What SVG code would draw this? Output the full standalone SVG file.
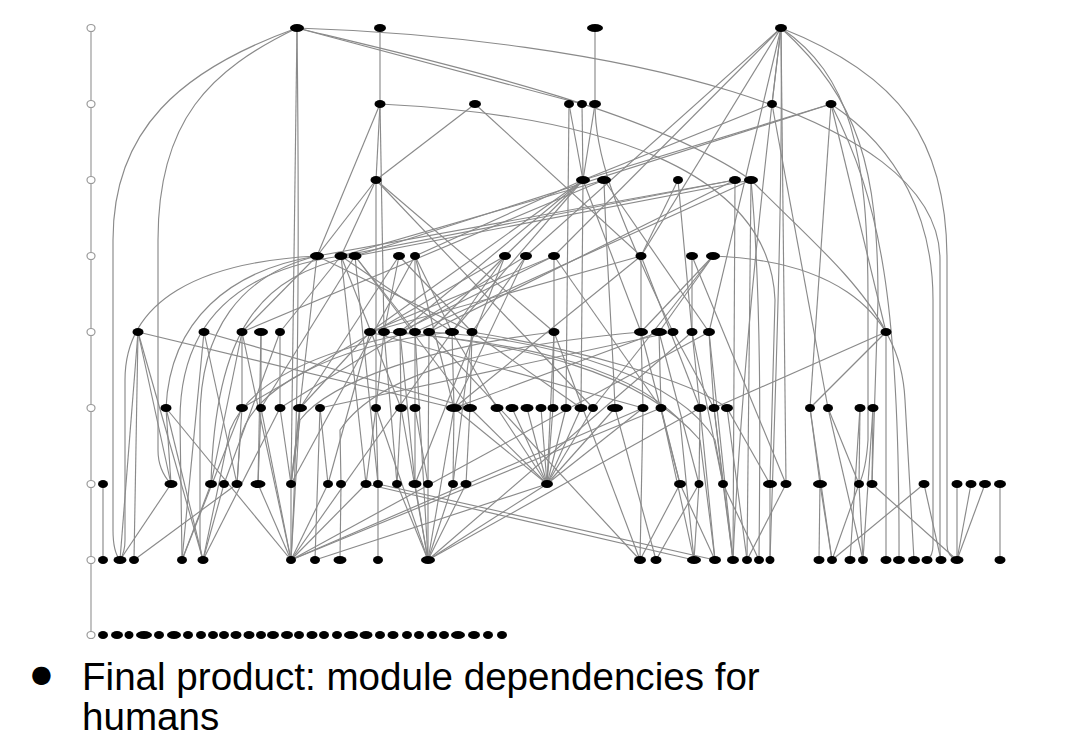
<svg xmlns="http://www.w3.org/2000/svg" width="1092" height="747" viewBox="0 0 1092 747">
<style>
.e{fill:none;stroke:#8a8a8a;stroke-width:1.15}
.n ellipse{fill:#000}
.ax{fill:#fff;stroke:#9a9a9a;stroke-width:1.2}
.axl{stroke:#9a9a9a;stroke-width:1.2}
.t{font-family:"Liberation Sans",Arial,sans-serif;font-size:38.6px;fill:#000}
</style>
<rect width="1092" height="747" fill="#fff"/>
<g id="rank-axis">
<line class="axl" x1="91" y1="28" x2="91" y2="635"/>
<ellipse class="ax" cx="91" cy="28" rx="4" ry="3.5"/>
<ellipse class="ax" cx="91" cy="104" rx="4" ry="3.5"/>
<ellipse class="ax" cx="91" cy="180" rx="4" ry="3.5"/>
<ellipse class="ax" cx="91" cy="256" rx="4" ry="3.5"/>
<ellipse class="ax" cx="91" cy="332" rx="4" ry="3.5"/>
<ellipse class="ax" cx="91" cy="408" rx="4" ry="3.5"/>
<ellipse class="ax" cx="91" cy="484" rx="4" ry="3.5"/>
<ellipse class="ax" cx="91" cy="560" rx="4" ry="3.5"/>
<ellipse class="ax" cx="91" cy="635" rx="4" ry="3.5"/>
</g>
<g id="connectors">
<path class="e" d="M297,28 C180,70 113,130 113,240 L113,530 Q113,552 120,560"/>
<path class="e" d="M297,28 C210,70 158,120 158,240 L158,450 Q158,470 171,484"/>
<path class="e" d="M297,28 L291,484"/>
<path class="e" d="M297,28 C299,200 299,420 291,560"/>
<path class="e" d="M297,28 C600,38 940,110 940,260 L940,545 Q940,556 941,560"/>
<path class="e" d="M297,28 C450,65 650,110 751,180"/>
<path class="e" d="M297,28 L582,104"/>
<path class="e" d="M380,28 L380,104"/>
<path class="e" d="M595,28 L595,104"/>
<path class="e" d="M781,28 L772,104"/>
<path class="e" d="M781,28 L786,484"/>
<path class="e" d="M781,28 C783,200 775,400 770,560"/>
<path class="e" d="M781,28 C900,75 947,140 947,260 L947,545 Q947,556 957,560"/>
<path class="e" d="M781,28 C850,75 868,150 868,300 L868,440 Q866,470 859,484"/>
<path class="e" d="M781,28 C860,100 878,170 878,300 L872,484"/>
<path class="e" d="M781,28 L641,256"/>
<path class="e" d="M781,28 L554,256"/>
<path class="e" d="M781,28 L709,332"/>
<path class="e" d="M781,28 L526,256"/>
<path class="e" d="M781,28 C760,200 740,400 733,560"/>
<path class="e" d="M380,104 L376,180"/>
<path class="e" d="M380,104 L317,256"/>
<path class="e" d="M380,104 L384,332"/>
<path class="e" d="M380,104 C600,115 770,170 775,300 L770,484"/>
<path class="e" d="M475,104 L376,180"/>
<path class="e" d="M475,104 L641,256"/>
<path class="e" d="M569,104 L583,180"/>
<path class="e" d="M569,104 L566,408"/>
<path class="e" d="M582,104 L583,180"/>
<path class="e" d="M595,104 L583,180"/>
<path class="e" d="M595,104 C595,150 610,200 673,332"/>
<path class="e" d="M772,104 L583,180"/>
<path class="e" d="M772,104 L828,408"/>
<path class="e" d="M831,104 L583,180"/>
<path class="e" d="M831,104 L355,256"/>
<path class="e" d="M831,104 L810,408"/>
<path class="e" d="M831,104 L886,332"/>
<path class="e" d="M831,104 C880,200 900,300 899,560"/>
<path class="e" d="M831,104 C900,150 933,220 933,300 L933,545 Q933,556 927,560"/>
<path class="e" d="M376,180 L317,256"/>
<path class="e" d="M376,180 L341,256"/>
<path class="e" d="M376,180 L376,408"/>
<path class="e" d="M376,180 L554,332"/>
<path class="e" d="M376,180 L593,408"/>
<path class="e" d="M583,180 L452,332"/>
<path class="e" d="M583,180 L505,256"/>
<path class="e" d="M583,180 L581,408"/>
<path class="e" d="M583,180 L370,332"/>
<path class="e" d="M583,180 L400,332"/>
<path class="e" d="M583,180 L415,256"/>
<path class="e" d="M583,180 L641,332"/>
<path class="e" d="M604,180 L709,332"/>
<path class="e" d="M604,180 C606,250 612,330 615,408"/>
<path class="e" d="M604,180 L242,332"/>
<path class="e" d="M604,180 L341,256"/>
<path class="e" d="M678,180 L641,256"/>
<path class="e" d="M678,180 L692,332"/>
<path class="e" d="M735,180 L317,256"/>
<path class="e" d="M735,180 L341,256"/>
<path class="e" d="M735,180 L733,560"/>
<path class="e" d="M735,180 L429,332"/>
<path class="e" d="M751,180 L355,256"/>
<path class="e" d="M751,180 L415,332"/>
<path class="e" d="M751,180 C762,300 760,450 759,560"/>
<path class="e" d="M751,180 C800,230 860,280 886,332"/>
<path class="e" d="M751,180 L747,560"/>
<path class="e" d="M317,256 C200,262 125,300 125,380 L125,540 Q125,552 120,560"/>
<path class="e" d="M317,256 C230,270 170,320 166,408"/>
<path class="e" d="M317,256 C240,275 200,330 200,420 L200,540 Q200,552 203,560"/>
<path class="e" d="M317,256 L242,332"/>
<path class="e" d="M317,256 L291,484"/>
<path class="e" d="M317,256 L472,332"/>
<path class="e" d="M341,256 C240,270 180,320 180,420 L182,560"/>
<path class="e" d="M341,256 L280,332"/>
<path class="e" d="M341,256 L401,408"/>
<path class="e" d="M341,256 L366,484"/>
<path class="e" d="M341,256 L452,332"/>
<path class="e" d="M355,256 L261,408"/>
<path class="e" d="M355,256 L415,332"/>
<path class="e" d="M355,256 L378,484"/>
<path class="e" d="M355,256 L470,408"/>
<path class="e" d="M355,256 C260,275 215,330 211,484"/>
<path class="e" d="M399,256 L384,332"/>
<path class="e" d="M399,256 L300,408"/>
<path class="e" d="M399,256 L472,332"/>
<path class="e" d="M415,256 L415,332"/>
<path class="e" d="M415,256 L454,408"/>
<path class="e" d="M415,256 L291,484"/>
<path class="e" d="M415,256 L452,332"/>
<path class="e" d="M505,256 L429,332"/>
<path class="e" d="M505,256 L452,332"/>
<path class="e" d="M505,256 L415,484"/>
<path class="e" d="M505,256 L242,408"/>
<path class="e" d="M526,256 L472,332"/>
<path class="e" d="M526,256 L454,408"/>
<path class="e" d="M526,256 L280,408"/>
<path class="e" d="M554,256 L554,332"/>
<path class="e" d="M554,256 L400,332"/>
<path class="e" d="M554,256 L661,408"/>
<path class="e" d="M554,256 L370,332"/>
<path class="e" d="M641,256 L641,332"/>
<path class="e" d="M641,256 L454,408"/>
<path class="e" d="M641,256 L700,408"/>
<path class="e" d="M641,256 L370,332"/>
<path class="e" d="M692,256 L692,332"/>
<path class="e" d="M692,256 L786,484"/>
<path class="e" d="M713,256 C820,260 900,300 905,400 L914,560"/>
<path class="e" d="M713,256 L641,332"/>
<path class="e" d="M713,256 L593,408"/>
<path class="e" d="M713,256 L659,332"/>
<path class="e" d="M138,332 L120,560"/>
<path class="e" d="M138,332 L134,560"/>
<path class="e" d="M138,332 L171,484"/>
<path class="e" d="M138,332 L203,560"/>
<path class="e" d="M138,332 L454,408"/>
<path class="e" d="M204,332 L182,560"/>
<path class="e" d="M204,332 L237,484"/>
<path class="e" d="M204,332 L470,408"/>
<path class="e" d="M242,332 L242,408"/>
<path class="e" d="M242,332 L211,484"/>
<path class="e" d="M242,332 L291,560"/>
<path class="e" d="M261,332 L261,408"/>
<path class="e" d="M261,332 L258,484"/>
<path class="e" d="M280,332 L280,408"/>
<path class="e" d="M280,332 L224,484"/>
<path class="e" d="M370,332 L300,408"/>
<path class="e" d="M370,332 L328,484"/>
<path class="e" d="M370,332 L643,408"/>
<path class="e" d="M384,332 L376,408"/>
<path class="e" d="M384,332 L397,484"/>
<path class="e" d="M384,332 C500,340 620,360 680,420 L694,560"/>
<path class="e" d="M400,332 L401,408"/>
<path class="e" d="M400,332 L415,484"/>
<path class="e" d="M400,332 C520,345 640,370 700,440 L715,560"/>
<path class="e" d="M415,332 L415,408"/>
<path class="e" d="M415,332 L428,560"/>
<path class="e" d="M415,332 C320,350 250,380 230,430 L203,560"/>
<path class="e" d="M429,332 L428,484"/>
<path class="e" d="M429,332 L640,560"/>
<path class="e" d="M429,332 C560,340 680,380 715,440 L723,484"/>
<path class="e" d="M452,332 L454,408"/>
<path class="e" d="M452,332 L497,408"/>
<path class="e" d="M452,332 L291,560"/>
<path class="e" d="M452,332 C330,345 250,390 240,440 L237,484"/>
<path class="e" d="M472,332 L470,408"/>
<path class="e" d="M472,332 L581,408"/>
<path class="e" d="M472,332 L453,484"/>
<path class="e" d="M472,332 C580,350 690,380 727,408"/>
<path class="e" d="M554,332 L553,408"/>
<path class="e" d="M554,332 L640,560"/>
<path class="e" d="M554,332 L547,484"/>
<path class="e" d="M554,332 C440,345 330,380 300,420 L291,484"/>
<path class="e" d="M641,332 L643,408"/>
<path class="e" d="M641,332 L680,484"/>
<path class="e" d="M641,332 C500,345 380,370 340,430 L341,484"/>
<path class="e" d="M659,332 L661,408"/>
<path class="e" d="M659,332 L454,408"/>
<path class="e" d="M659,332 L699,484"/>
<path class="e" d="M673,332 L714,408"/>
<path class="e" d="M673,332 L320,408"/>
<path class="e" d="M692,332 L700,408"/>
<path class="e" d="M692,332 L723,484"/>
<path class="e" d="M692,332 L428,560"/>
<path class="e" d="M709,332 L714,408"/>
<path class="e" d="M709,332 L733,560"/>
<path class="e" d="M709,332 L291,560"/>
<path class="e" d="M886,332 L714,408"/>
<path class="e" d="M886,332 L886,560"/>
<path class="e" d="M886,332 L810,408"/>
<path class="e" d="M166,408 L171,484"/>
<path class="e" d="M166,408 L203,560"/>
<path class="e" d="M166,408 L291,560"/>
<path class="e" d="M242,408 L237,484"/>
<path class="e" d="M242,408 L182,560"/>
<path class="e" d="M261,408 L258,484"/>
<path class="e" d="M261,408 L291,560"/>
<path class="e" d="M280,408 L291,484"/>
<path class="e" d="M280,408 L203,560"/>
<path class="e" d="M300,408 L291,484"/>
<path class="e" d="M300,408 L291,560"/>
<path class="e" d="M320,408 L328,484"/>
<path class="e" d="M320,408 L315,560"/>
<path class="e" d="M376,408 L378,484"/>
<path class="e" d="M376,408 L366,484"/>
<path class="e" d="M376,408 L428,560"/>
<path class="e" d="M401,408 L397,484"/>
<path class="e" d="M401,408 L428,560"/>
<path class="e" d="M415,408 L415,484"/>
<path class="e" d="M415,408 L428,484"/>
<path class="e" d="M454,408 L547,484"/>
<path class="e" d="M454,408 L453,484"/>
<path class="e" d="M454,408 L428,560"/>
<path class="e" d="M470,408 L547,484"/>
<path class="e" d="M470,408 L466,484"/>
<path class="e" d="M497,408 L547,484"/>
<path class="e" d="M512,408 L547,484"/>
<path class="e" d="M527,408 L547,484"/>
<path class="e" d="M541,408 L547,484"/>
<path class="e" d="M553,408 L547,484"/>
<path class="e" d="M566,408 L547,484"/>
<path class="e" d="M581,408 L547,484"/>
<path class="e" d="M593,408 L547,484"/>
<path class="e" d="M615,408 L547,484"/>
<path class="e" d="M615,408 L656,560"/>
<path class="e" d="M643,408 L547,484"/>
<path class="e" d="M643,408 L640,560"/>
<path class="e" d="M643,408 L291,560"/>
<path class="e" d="M661,408 L680,484"/>
<path class="e" d="M661,408 L694,560"/>
<path class="e" d="M661,408 L291,560"/>
<path class="e" d="M700,408 L699,484"/>
<path class="e" d="M700,408 L715,560"/>
<path class="e" d="M700,408 L428,560"/>
<path class="e" d="M714,408 L723,484"/>
<path class="e" d="M714,408 L733,560"/>
<path class="e" d="M727,408 L770,484"/>
<path class="e" d="M727,408 L747,560"/>
<path class="e" d="M810,408 L820,484"/>
<path class="e" d="M810,408 L832,560"/>
<path class="e" d="M828,408 L859,484"/>
<path class="e" d="M828,408 L863,560"/>
<path class="e" d="M860,408 L859,484"/>
<path class="e" d="M860,408 L850,560"/>
<path class="e" d="M873,408 L872,484"/>
<path class="e" d="M873,408 L863,560"/>
<path class="e" d="M103,484 L103,560"/>
<path class="e" d="M171,484 L120,560"/>
<path class="e" d="M211,484 L182,560"/>
<path class="e" d="M224,484 L203,560"/>
<path class="e" d="M237,484 L134,560"/>
<path class="e" d="M258,484 L291,560"/>
<path class="e" d="M291,484 L291,560"/>
<path class="e" d="M328,484 L291,560"/>
<path class="e" d="M341,484 L340,560"/>
<path class="e" d="M366,484 L291,560"/>
<path class="e" d="M378,484 L378,560"/>
<path class="e" d="M397,484 L428,560"/>
<path class="e" d="M415,484 L428,560"/>
<path class="e" d="M428,484 L428,560"/>
<path class="e" d="M453,484 L428,560"/>
<path class="e" d="M466,484 L428,560"/>
<path class="e" d="M547,484 L428,560"/>
<path class="e" d="M547,484 L315,560"/>
<path class="e" d="M680,484 L715,560"/>
<path class="e" d="M680,484 L640,560"/>
<path class="e" d="M699,484 L694,560"/>
<path class="e" d="M699,484 L656,560"/>
<path class="e" d="M723,484 L733,560"/>
<path class="e" d="M723,484 L759,560"/>
<path class="e" d="M770,484 L770,560"/>
<path class="e" d="M786,484 L747,560"/>
<path class="e" d="M820,484 L819,560"/>
<path class="e" d="M820,484 L832,560"/>
<path class="e" d="M859,484 L832,560"/>
<path class="e" d="M859,484 L863,560"/>
<path class="e" d="M872,484 L957,560"/>
<path class="e" d="M924,484 L832,560"/>
<path class="e" d="M924,484 L941,560"/>
<path class="e" d="M957,484 L957,560"/>
<path class="e" d="M971,484 L957,560"/>
<path class="e" d="M985,484 L957,560"/>
<path class="e" d="M1000,484 L1000,560"/>
<path class="e" d="M366,484 L694,560"/>
<path class="e" d="M378,484 L715,560"/>
</g>
<g id="nodes" class="n">
<g id="r0n0"><ellipse cx="297" cy="28" rx="7" ry="4"/></g>
<g id="r0n1"><ellipse cx="380" cy="28" rx="6" ry="4"/></g>
<g id="r0n2"><ellipse cx="595" cy="28" rx="8" ry="4"/></g>
<g id="r0n3"><ellipse cx="781" cy="28" rx="6" ry="4"/></g>
<g id="r1n0"><ellipse cx="380" cy="104" rx="5.5" ry="4"/></g>
<g id="r1n1"><ellipse cx="475" cy="104" rx="6" ry="4"/></g>
<g id="r1n2"><ellipse cx="569" cy="104" rx="5" ry="4"/></g>
<g id="r1n3"><ellipse cx="582" cy="104" rx="5" ry="4"/></g>
<g id="r1n4"><ellipse cx="595" cy="104" rx="6" ry="4"/></g>
<g id="r1n5"><ellipse cx="772" cy="104" rx="5" ry="4"/></g>
<g id="r1n6"><ellipse cx="831" cy="104" rx="5.5" ry="4"/></g>
<g id="r2n0"><ellipse cx="376" cy="180" rx="5.5" ry="4"/></g>
<g id="r2n1"><ellipse cx="583" cy="180" rx="7" ry="4"/></g>
<g id="r2n2"><ellipse cx="604" cy="180" rx="7" ry="4"/></g>
<g id="r2n3"><ellipse cx="678" cy="180" rx="5" ry="4"/></g>
<g id="r2n4"><ellipse cx="735" cy="180" rx="6" ry="4"/></g>
<g id="r2n5"><ellipse cx="751" cy="180" rx="7" ry="4"/></g>
<g id="r3n0"><ellipse cx="317" cy="256" rx="7" ry="4"/></g>
<g id="r3n1"><ellipse cx="341" cy="256" rx="6.5" ry="4"/></g>
<g id="r3n2"><ellipse cx="355" cy="256" rx="6.5" ry="4"/></g>
<g id="r3n3"><ellipse cx="399" cy="256" rx="6" ry="4"/></g>
<g id="r3n4"><ellipse cx="415" cy="256" rx="5" ry="4"/></g>
<g id="r3n5"><ellipse cx="505" cy="256" rx="6" ry="4"/></g>
<g id="r3n6"><ellipse cx="526" cy="256" rx="6" ry="4"/></g>
<g id="r3n7"><ellipse cx="554" cy="256" rx="6" ry="4"/></g>
<g id="r3n8"><ellipse cx="641" cy="256" rx="5.5" ry="4"/></g>
<g id="r3n9"><ellipse cx="692" cy="256" rx="6" ry="4"/></g>
<g id="r3n10"><ellipse cx="713" cy="256" rx="7" ry="4"/></g>
<g id="r4n0"><ellipse cx="138" cy="332" rx="5.5" ry="4"/></g>
<g id="r4n1"><ellipse cx="204" cy="332" rx="5.5" ry="4"/></g>
<g id="r4n2"><ellipse cx="242" cy="332" rx="5.5" ry="4"/></g>
<g id="r4n3"><ellipse cx="261" cy="332" rx="7" ry="4"/></g>
<g id="r4n4"><ellipse cx="280" cy="332" rx="5" ry="4"/></g>
<g id="r4n5"><ellipse cx="370" cy="332" rx="6" ry="4"/></g>
<g id="r4n6"><ellipse cx="384" cy="332" rx="6" ry="4"/></g>
<g id="r4n7"><ellipse cx="400" cy="332" rx="7" ry="4"/></g>
<g id="r4n8"><ellipse cx="415" cy="332" rx="6" ry="4"/></g>
<g id="r4n9"><ellipse cx="429" cy="332" rx="6" ry="4"/></g>
<g id="r4n10"><ellipse cx="452" cy="332" rx="7" ry="4"/></g>
<g id="r4n11"><ellipse cx="472" cy="332" rx="5.5" ry="4"/></g>
<g id="r4n12"><ellipse cx="554" cy="332" rx="5.5" ry="4"/></g>
<g id="r4n13"><ellipse cx="641" cy="332" rx="7" ry="4"/></g>
<g id="r4n14"><ellipse cx="659" cy="332" rx="8" ry="4"/></g>
<g id="r4n15"><ellipse cx="673" cy="332" rx="5.5" ry="4"/></g>
<g id="r4n16"><ellipse cx="692" cy="332" rx="5.5" ry="4"/></g>
<g id="r4n17"><ellipse cx="709" cy="332" rx="6" ry="4"/></g>
<g id="r4n18"><ellipse cx="886" cy="332" rx="5.5" ry="4"/></g>
<g id="r5n0"><ellipse cx="166" cy="408" rx="5.5" ry="4"/></g>
<g id="r5n1"><ellipse cx="242" cy="408" rx="6" ry="4"/></g>
<g id="r5n2"><ellipse cx="261" cy="408" rx="5" ry="4"/></g>
<g id="r5n3"><ellipse cx="280" cy="408" rx="5.5" ry="4"/></g>
<g id="r5n4"><ellipse cx="300" cy="408" rx="7" ry="4"/></g>
<g id="r5n5"><ellipse cx="320" cy="408" rx="5" ry="4"/></g>
<g id="r5n6"><ellipse cx="376" cy="408" rx="5" ry="4"/></g>
<g id="r5n7"><ellipse cx="401" cy="408" rx="6" ry="4"/></g>
<g id="r5n8"><ellipse cx="415" cy="408" rx="5.5" ry="4"/></g>
<g id="r5n9"><ellipse cx="454" cy="408" rx="8" ry="4"/></g>
<g id="r5n10"><ellipse cx="470" cy="408" rx="7" ry="4"/></g>
<g id="r5n11"><ellipse cx="497" cy="408" rx="6.5" ry="4"/></g>
<g id="r5n12"><ellipse cx="512" cy="408" rx="6.5" ry="4"/></g>
<g id="r5n13"><ellipse cx="527" cy="408" rx="6.5" ry="4"/></g>
<g id="r5n14"><ellipse cx="541" cy="408" rx="5.5" ry="4"/></g>
<g id="r5n15"><ellipse cx="553" cy="408" rx="5.5" ry="4"/></g>
<g id="r5n16"><ellipse cx="566" cy="408" rx="5.5" ry="4"/></g>
<g id="r5n17"><ellipse cx="581" cy="408" rx="6.5" ry="4"/></g>
<g id="r5n18"><ellipse cx="593" cy="408" rx="5" ry="4"/></g>
<g id="r5n19"><ellipse cx="615" cy="408" rx="8" ry="4"/></g>
<g id="r5n20"><ellipse cx="643" cy="408" rx="5.5" ry="4"/></g>
<g id="r5n21"><ellipse cx="661" cy="408" rx="5.5" ry="4"/></g>
<g id="r5n22"><ellipse cx="700" cy="408" rx="6.5" ry="4"/></g>
<g id="r5n23"><ellipse cx="714" cy="408" rx="5.5" ry="4"/></g>
<g id="r5n24"><ellipse cx="727" cy="408" rx="6" ry="4"/></g>
<g id="r5n25"><ellipse cx="810" cy="408" rx="5" ry="4"/></g>
<g id="r5n26"><ellipse cx="828" cy="408" rx="5" ry="4"/></g>
<g id="r5n27"><ellipse cx="860" cy="408" rx="5.5" ry="4"/></g>
<g id="r5n28"><ellipse cx="873" cy="408" rx="5.5" ry="4"/></g>
<g id="r6n0"><ellipse cx="103" cy="484" rx="5" ry="4"/></g>
<g id="r6n1"><ellipse cx="171" cy="484" rx="6.5" ry="4"/></g>
<g id="r6n2"><ellipse cx="211" cy="484" rx="6" ry="4"/></g>
<g id="r6n3"><ellipse cx="224" cy="484" rx="5" ry="4"/></g>
<g id="r6n4"><ellipse cx="237" cy="484" rx="5.5" ry="4"/></g>
<g id="r6n5"><ellipse cx="258" cy="484" rx="7.5" ry="4"/></g>
<g id="r6n6"><ellipse cx="291" cy="484" rx="5" ry="4"/></g>
<g id="r6n7"><ellipse cx="328" cy="484" rx="5" ry="4"/></g>
<g id="r6n8"><ellipse cx="341" cy="484" rx="5" ry="4"/></g>
<g id="r6n9"><ellipse cx="366" cy="484" rx="5.5" ry="4"/></g>
<g id="r6n10"><ellipse cx="378" cy="484" rx="5" ry="4"/></g>
<g id="r6n11"><ellipse cx="397" cy="484" rx="5" ry="4"/></g>
<g id="r6n12"><ellipse cx="415" cy="484" rx="6.5" ry="4"/></g>
<g id="r6n13"><ellipse cx="428" cy="484" rx="5" ry="4"/></g>
<g id="r6n14"><ellipse cx="453" cy="484" rx="5" ry="4"/></g>
<g id="r6n15"><ellipse cx="466" cy="484" rx="5.5" ry="4"/></g>
<g id="r6n16"><ellipse cx="547" cy="484" rx="6" ry="4"/></g>
<g id="r6n17"><ellipse cx="680" cy="484" rx="6" ry="4"/></g>
<g id="r6n18"><ellipse cx="699" cy="484" rx="4.5" ry="4"/></g>
<g id="r6n19"><ellipse cx="723" cy="484" rx="5" ry="4"/></g>
<g id="r6n20"><ellipse cx="770" cy="484" rx="7" ry="4"/></g>
<g id="r6n21"><ellipse cx="786" cy="484" rx="5.5" ry="4"/></g>
<g id="r6n22"><ellipse cx="820" cy="484" rx="7" ry="4"/></g>
<g id="r6n23"><ellipse cx="859" cy="484" rx="5" ry="4"/></g>
<g id="r6n24"><ellipse cx="872" cy="484" rx="5.5" ry="4"/></g>
<g id="r6n25"><ellipse cx="924" cy="484" rx="5.5" ry="4"/></g>
<g id="r6n26"><ellipse cx="957" cy="484" rx="5.5" ry="4"/></g>
<g id="r6n27"><ellipse cx="971" cy="484" rx="5.5" ry="4"/></g>
<g id="r6n28"><ellipse cx="985" cy="484" rx="6" ry="4"/></g>
<g id="r6n29"><ellipse cx="1000" cy="484" rx="6" ry="4"/></g>
<g id="r7n0"><ellipse cx="103" cy="560" rx="5" ry="4"/></g>
<g id="r7n1"><ellipse cx="120" cy="560" rx="6.5" ry="4"/></g>
<g id="r7n2"><ellipse cx="134" cy="560" rx="5" ry="4"/></g>
<g id="r7n3"><ellipse cx="182" cy="560" rx="5" ry="4"/></g>
<g id="r7n4"><ellipse cx="203" cy="560" rx="5.5" ry="4"/></g>
<g id="r7n5"><ellipse cx="291" cy="560" rx="5" ry="4"/></g>
<g id="r7n6"><ellipse cx="315" cy="560" rx="5" ry="4"/></g>
<g id="r7n7"><ellipse cx="340" cy="560" rx="6.5" ry="4"/></g>
<g id="r7n8"><ellipse cx="378" cy="560" rx="5" ry="4"/></g>
<g id="r7n9"><ellipse cx="428" cy="560" rx="7" ry="4"/></g>
<g id="r7n10"><ellipse cx="640" cy="560" rx="6" ry="4"/></g>
<g id="r7n11"><ellipse cx="656" cy="560" rx="5.5" ry="4"/></g>
<g id="r7n12"><ellipse cx="694" cy="560" rx="7" ry="4"/></g>
<g id="r7n13"><ellipse cx="715" cy="560" rx="6" ry="4"/></g>
<g id="r7n14"><ellipse cx="733" cy="560" rx="6" ry="4"/></g>
<g id="r7n15"><ellipse cx="747" cy="560" rx="5" ry="4"/></g>
<g id="r7n16"><ellipse cx="759" cy="560" rx="5" ry="4"/></g>
<g id="r7n17"><ellipse cx="770" cy="560" rx="4.5" ry="4"/></g>
<g id="r7n18"><ellipse cx="819" cy="560" rx="5.5" ry="4"/></g>
<g id="r7n19"><ellipse cx="832" cy="560" rx="5" ry="4"/></g>
<g id="r7n20"><ellipse cx="850" cy="560" rx="5.5" ry="4"/></g>
<g id="r7n21"><ellipse cx="863" cy="560" rx="5" ry="4"/></g>
<g id="r7n22"><ellipse cx="886" cy="560" rx="5.5" ry="4"/></g>
<g id="r7n23"><ellipse cx="899" cy="560" rx="6" ry="4"/></g>
<g id="r7n24"><ellipse cx="914" cy="560" rx="6" ry="4"/></g>
<g id="r7n25"><ellipse cx="927" cy="560" rx="5.5" ry="4"/></g>
<g id="r7n26"><ellipse cx="941" cy="560" rx="5.5" ry="4"/></g>
<g id="r7n27"><ellipse cx="957" cy="560" rx="6.5" ry="4"/></g>
<g id="r7n28"><ellipse cx="1000" cy="560" rx="5.5" ry="4"/></g>
<g id="r8n0"><ellipse cx="103" cy="635" rx="5" ry="4"/></g>
<g id="r8n1"><ellipse cx="117" cy="635" rx="6" ry="4"/></g>
<g id="r8n2"><ellipse cx="129" cy="635" rx="4.5" ry="4"/></g>
<g id="r8n3"><ellipse cx="144" cy="635" rx="8" ry="4"/></g>
<g id="r8n4"><ellipse cx="159" cy="635" rx="5" ry="4"/></g>
<g id="r8n5"><ellipse cx="174" cy="635" rx="7" ry="4"/></g>
<g id="r8n6"><ellipse cx="188" cy="635" rx="5" ry="4"/></g>
<g id="r8n7"><ellipse cx="201" cy="635" rx="5" ry="4"/></g>
<g id="r8n8"><ellipse cx="213" cy="635" rx="5" ry="4"/></g>
<g id="r8n9"><ellipse cx="224" cy="635" rx="5" ry="4"/></g>
<g id="r8n10"><ellipse cx="236" cy="635" rx="5.5" ry="4"/></g>
<g id="r8n11"><ellipse cx="249" cy="635" rx="5.5" ry="4"/></g>
<g id="r8n12"><ellipse cx="261" cy="635" rx="5" ry="4"/></g>
<g id="r8n13"><ellipse cx="273" cy="635" rx="6" ry="4"/></g>
<g id="r8n14"><ellipse cx="287" cy="635" rx="6" ry="4"/></g>
<g id="r8n15"><ellipse cx="299" cy="635" rx="5" ry="4"/></g>
<g id="r8n16"><ellipse cx="312" cy="635" rx="5.5" ry="4"/></g>
<g id="r8n17"><ellipse cx="324" cy="635" rx="5" ry="4"/></g>
<g id="r8n18"><ellipse cx="337" cy="635" rx="5" ry="4"/></g>
<g id="r8n19"><ellipse cx="351" cy="635" rx="7" ry="4"/></g>
<g id="r8n20"><ellipse cx="366" cy="635" rx="6.5" ry="4"/></g>
<g id="r8n21"><ellipse cx="380" cy="635" rx="5" ry="4"/></g>
<g id="r8n22"><ellipse cx="393" cy="635" rx="5.5" ry="4"/></g>
<g id="r8n23"><ellipse cx="407" cy="635" rx="5" ry="4"/></g>
<g id="r8n24"><ellipse cx="419" cy="635" rx="5" ry="4"/></g>
<g id="r8n25"><ellipse cx="432" cy="635" rx="5" ry="4"/></g>
<g id="r8n26"><ellipse cx="444" cy="635" rx="5" ry="4"/></g>
<g id="r8n27"><ellipse cx="458" cy="635" rx="7" ry="4"/></g>
<g id="r8n28"><ellipse cx="474" cy="635" rx="6" ry="4"/></g>
<g id="r8n29"><ellipse cx="488" cy="635" rx="5" ry="4"/></g>
<g id="r8n30"><ellipse cx="502" cy="635" rx="5" ry="4"/></g>
</g>
<g id="caption">
<text x="31" y="682" style="font-family:'DejaVu Sans',sans-serif;font-size:24px">●</text>
<text class="t" x="82" y="690">Final product: module dependencies for</text>
<text class="t" x="82" y="730">humans</text>
</g>
</svg>
